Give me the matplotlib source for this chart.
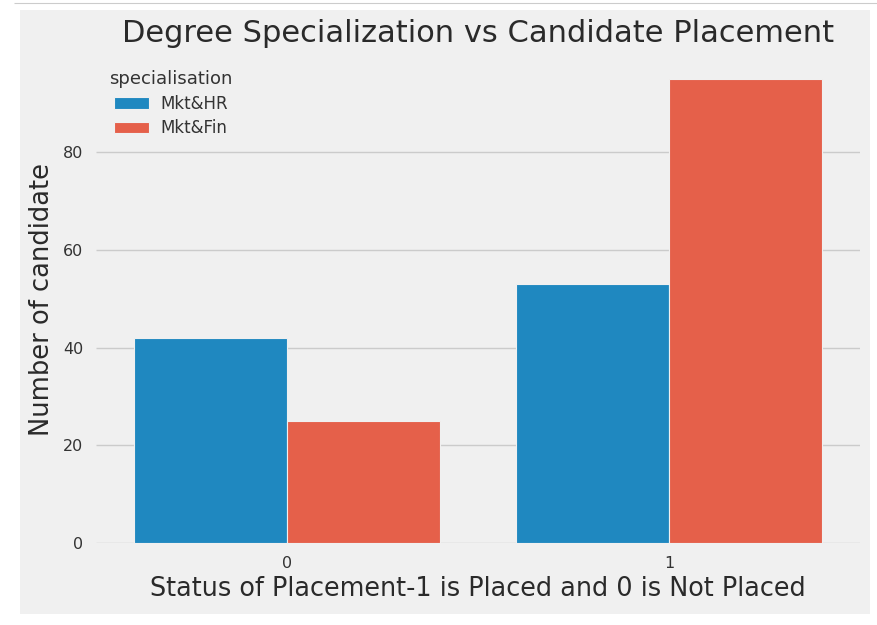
import matplotlib
matplotlib.use("Agg")
import matplotlib.pyplot as plt
import numpy as np

categories = ["0", "1"]
series_names = ["Mkt&HR", "Mkt&Fin"]
hr_counts = [42, 53]
fin_counts = [25, 95]
colors = ["#1f88c0", "#e5604a"]

plt.style.use("fivethirtyeight")
plt.rcParams['font.family'] = ['DejaVu Sans']

fig = plt.figure(figsize=(8.77, 6.25), dpi=100)
fig.patch.set_facecolor("white")
# gray figure panel (as in notebook screenshot)
bg = plt.Rectangle((20/877, 1 - 614/625), (870-20)/877, (614-10)/625,
                   transform=fig.transFigure, facecolor="#f0f0f0", edgecolor="none", zorder=-10)
fig.add_artist(bg)
# thin top line from notebook cell
fig.add_artist(plt.Line2D([14/877, 1.0], [1 - 3/625, 1 - 3/625], transform=fig.transFigure,
                          color="#cccccc", linewidth=0.8, zorder=-10))

ax = fig.add_axes([96/877, 1 - 543/625, (860-96)/877, (543-55.5)/625])
ax.set_zorder(1)
ax.set_facecolor("#f0f0f0")

x = np.arange(len(categories))
w = 0.4
for i, (name, vals) in enumerate(zip(series_names, [hr_counts, fin_counts])):
    ax.bar(x - w/2 + i*w, vals, width=w, color=colors[i], edgecolor="#f0f0f0",
           linewidth=0.8, label=name, zorder=2)

ax.set_xlim(-0.5, 1.5)
ax.set_ylim(0, 99.75)
ax.set_xticks(x)
ax.set_xticklabels(categories)
ax.set_yticks([0, 20, 40, 60, 80])
ax.grid(axis="x", visible=False)
ax.grid(axis="y", color="#cbcbcb", linewidth=1.0, zorder=0)
ax.set_axisbelow(True)
ax.tick_params(axis="both", labelsize=11.5, colors="#333333", length=0)
ax.tick_params(axis="y", pad=9)
ax.tick_params(axis="x", pad=9)
for s in ax.spines.values():
    s.set_visible(False)

ax.set_title("Degree Specialization vs Candidate Placement", fontsize=22, color="#2a2a2a", pad=10)
ax.set_ylabel("Number of candidate", fontsize=18.5, color="#2a2a2a", labelpad=6)
ax.set_xlabel("Status of Placement-1 is Placed and 0 is Not Placed", fontsize=18.4, color="#2a2a2a", labelpad=4)

leg = ax.legend(title="specialisation", loc="upper left", frameon=False, fontsize=12,
                title_fontsize=13, bbox_to_anchor=(-0.002, 1.0), handlelength=2.1,
                handletextpad=0.7, labelspacing=0.38)
for t in leg.get_texts():
    t.set_color("#333333")
leg.get_title().set_color("#333333")

fig.savefig("out.png", dpi=100, facecolor="white")
